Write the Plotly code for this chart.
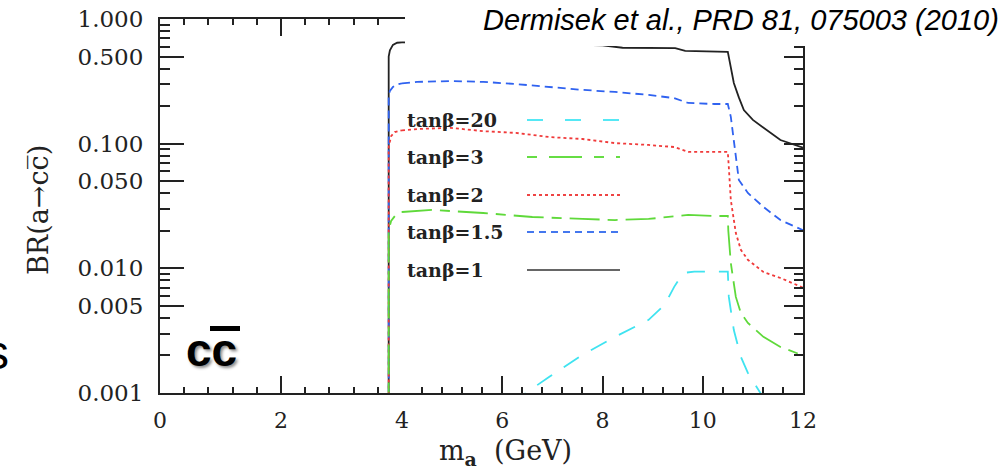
import plotly.graph_objects as go

# ---------------- data ----------------
tb1_x = [3.78, 3.78, 3.80, 3.85, 3.92, 4.0, 5.0, 6.0, 7.0, 8.0, 8.4, 9.45, 9.65, 10.5,
         10.56, 10.62, 10.72, 10.82, 11.0, 11.21, 11.55, 12.0]
tb1_y = [0.0005, 0.50, 0.56, 0.62, 0.645, 0.65, 0.645, 0.64, 0.63, 0.615, 0.588, 0.583, 0.555, 0.545,
         0.42, 0.307, 0.235, 0.186, 0.155, 0.134, 0.107, 0.093]

tb15_x = [3.78, 3.78, 3.80, 3.85, 3.92, 4.0, 4.3, 4.97, 5.62, 6.27, 6.94, 7.6, 8.25, 8.92, 9.43, 9.71,
          10.23, 10.5, 10.56, 10.62, 10.72, 10.9, 11.21, 11.55, 12.0]
tb15_y = [0.0005, 0.24, 0.265, 0.285, 0.298, 0.305, 0.313, 0.318, 0.313, 0.301, 0.285, 0.270, 0.260,
          0.246, 0.232, 0.212, 0.208, 0.208, 0.164, 0.107, 0.0512, 0.0402, 0.0311, 0.0244, 0.0202]

tb2_x = [3.78, 3.78, 3.82, 3.88, 4.0, 4.3, 4.97, 5.62, 6.27, 6.94, 7.6, 8.25, 8.92, 9.43, 9.71,
         10.23, 10.5, 10.52, 10.56, 10.66, 10.76, 10.9, 11.21, 11.55, 12.0]
tb2_y = [0.0005, 0.094, 0.115, 0.124, 0.128, 0.131, 0.134, 0.126, 0.122, 0.113, 0.109, 0.101, 0.0977,
         0.094, 0.0858, 0.0858, 0.0858, 0.065, 0.0353, 0.0192, 0.0141, 0.0117, 0.00935, 0.00837, 0.0070]

tb3_x = [3.78, 3.78, 3.82, 3.90, 4.0, 4.6, 5.62, 6.6, 7.6, 8.25, 8.92, 9.43, 9.71, 10.23, 10.5,
         10.51, 10.56, 10.66, 10.76, 10.9, 11.21, 11.55, 12.0]
tb3_y = [0.0005, 0.0203, 0.024, 0.027, 0.0283, 0.0294, 0.0278, 0.0258, 0.0249, 0.0244, 0.0249, 0.0263,
         0.0268, 0.0263, 0.0263, 0.020, 0.0110, 0.0059, 0.00439, 0.00365, 0.00282, 0.00234, 0.0020]

tb20_x = [6.2, 6.47, 6.94, 7.6, 8.25, 8.92, 9.24, 9.43, 9.61, 9.83, 10.42, 10.5, 10.52, 10.62,
          10.76, 10.9, 11.15, 11.3]
tb20_y = [0.0008, 0.001, 0.00135, 0.00202, 0.00282, 0.00386, 0.00509, 0.0071, 0.00919, 0.0094, 0.0094,
          0.0094, 0.0059, 0.0032, 0.00195, 0.00145, 0.0010, 0.0008]

series_names = ["tanβ=20", "tanβ=3", "tanβ=2", "tanβ=1.5", "tanβ=1"]
series_x = [tb20_x, tb3_x, tb2_x, tb15_x, tb1_x]
series_y = [tb20_y, tb3_y, tb2_y, tb15_y, tb1_y]
series_color = ["#3fe3f0", "#5fd93a", "#f03a3a", "#2f62f0", "#222222"]
series_dash = ["18px,14px", "30px,8px,10px,8px", "3px,3px", "8px,5px", "solid"]
legend_dash = ["16px,22px", "10px,12px,33px,12px", "3px,3px", "7px,5px", "solid"]
legend_color = ["#55e8f5", "#66dd44", "#ee4444", "#4477ee", "#666666"]

x_split = 4.0
x_left_ticks = [0, 2]
x_right_ticks = [4, 6, 8, 10, 12]
y_ticks = [0.001, 0.005, 0.01, 0.05, 0.1, 0.5, 1.0]
y_ticktext = ["0.001", "0.005", "0.010", "0.050", "0.100", "0.500", "1.000"]

W, H = 1003, 475


def px(x):
    return x / W


def py(y):
    return 1 - y / H


fig = go.Figure()

# draw tanβ=1 first so the coloured curves lie on top of it (as in the reference)
for name, xs, ys, col, dash in list(zip(series_names, series_x, series_y, series_color, series_dash))[::-1]:
    lx = [x for x in xs if x <= x_split]
    ly = [y for x, y in zip(xs, ys) if x <= x_split]
    rx = [x for x in xs if x >= x_split]
    ry = [y for x, y in zip(xs, ys) if x >= x_split]
    if lx:
        fig.add_trace(go.Scatter(x=lx, y=ly, mode="lines", name=name, showlegend=False,
                                 line=dict(color=col, width=1.8, dash=dash),
                                 xaxis="x", yaxis="y"))
    fig.add_trace(go.Scatter(x=rx, y=ry, mode="lines", name=name, showlegend=False,
                             line=dict(color=col, width=1.8, dash=dash),
                             xaxis="x2", yaxis="y2"))

axcol = "#222222"
tickfont = dict(family="DejaVu Serif", size=22, color="#222222")
ytickfont = dict(family="DejaVu Serif", size=23, color="#222222")

minor_left = [0.4, 0.8, 1.2, 1.6, 2.4, 2.8, 3.2, 3.6]
minor_right = [4.4, 4.8, 5.2, 5.6, 6.4, 6.8, 7.2, 7.6, 8.4, 8.8, 9.2, 9.6,
               10.4, 10.8, 11.2, 11.6]
minor_y = [m * d for d in (0.001, 0.01, 0.1) for m in (2, 3, 4, 6, 7, 8, 9)]

ydom = [py(393), py(19)]

fig.update_layout(
    width=W, height=H,
    margin=dict(l=0, r=0, t=0, b=0, autoexpand=False),
    paper_bgcolor="white", plot_bgcolor="white",
    showlegend=False,
    xaxis=dict(domain=[px(160), px(402)], range=[0, x_split], anchor="y", automargin=False,
               tickmode="array", tickvals=x_left_ticks, ticktext=[str(v) for v in x_left_ticks],
               ticks="inside", ticklen=17, tickwidth=2, tickcolor=axcol,
               minor=dict(tickmode="array", tickvals=minor_left, ticks="inside",
                          ticklen=6, tickwidth=2, tickcolor=axcol),
               showline=True, linewidth=2, linecolor=axcol, mirror="ticks",
               showgrid=False, zeroline=False, tickfont=tickfont, ticklabelstandoff=7),
    xaxis2=dict(domain=[px(402), px(803)], range=[x_split, 12], anchor="y2", automargin=False,
                tickmode="array", tickvals=x_right_ticks, ticktext=[str(v) for v in x_right_ticks],
                ticks="inside", ticklen=17, tickwidth=2, tickcolor=axcol,
                minor=dict(tickmode="array", tickvals=minor_right, ticks="inside",
                           ticklen=6, tickwidth=2, tickcolor=axcol),
                showline=True, linewidth=2, linecolor=axcol, mirror="ticks",
                showgrid=False, zeroline=False, tickfont=tickfont, ticklabelstandoff=7),
    yaxis=dict(domain=ydom, type="log", range=[-3, 0], anchor="x", automargin=False,
               tickmode="array", tickvals=y_ticks, ticktext=y_ticktext,
               ticks="inside", ticklen=24, tickwidth=2, tickcolor=axcol,
               minor=dict(tickmode="array", tickvals=minor_y, ticks="inside",
                          ticklen=10, tickwidth=2, tickcolor=axcol),
               showline=True, linewidth=2, linecolor=axcol, mirror=False,
               showgrid=False, zeroline=False, tickfont=ytickfont, ticklabelstandoff=10),
    yaxis2=dict(domain=ydom, type="log", range=[-3, 0], anchor="x2", side="right", automargin=False,
                tickmode="array", tickvals=y_ticks, showticklabels=False,
                ticks="inside", ticklen=19, tickwidth=2, tickcolor=axcol,
                minor=dict(tickmode="array", tickvals=minor_y, ticks="inside",
                           ticklen=9, tickwidth=2, tickcolor=axcol),
                showline=True, linewidth=2, linecolor=axcol,
                showgrid=False, zeroline=False),
)

shapes = []
annotations = []

# in-plot legend (text, then line sample)
legend_rows = [120, 157, 195, 232, 270]
for name, yrow, col, dash in zip(series_names, legend_rows, legend_color, legend_dash):
    annotations.append(dict(text=name, xref="paper", yref="paper", x=px(405), y=py(yrow),
                            xanchor="left", yanchor="middle", showarrow=False,
                            font=dict(family="DejaVu Serif", size=19, color="#222222", weight="bold")))
    shapes.append(dict(type="line", xref="paper", yref="paper", x0=px(527), x1=px(620),
                       y0=py(yrow), y1=py(yrow), line=dict(color=col, width=2, dash=dash)))

# white box behind citation (covers the top-right corner of the frame)
shapes.append(dict(type="rect", xref="paper", yref="paper", x0=px(405), x1=1.0,
                   y0=py(46), y1=1.0, fillcolor="white", line=dict(width=0), layer="above"))
annotations.append(dict(text="<i>Dermisek et al., PRD 81, 075003 (2010)</i>", xref="paper", yref="paper",
                        x=px(1001), y=py(20), xanchor="right", yanchor="middle", showarrow=False,
                        font=dict(family="Liberation Sans", size=29, color="black")))

# y-axis title
annotations.append(dict(text="BR(a→cc\u0305)", xref="paper", yref="paper", x=px(38), y=py(210),
                        xanchor="center", yanchor="middle", textangle=-90, showarrow=False,
                        font=dict(family="DejaVu Serif", size=27, color="#222222")))
# x-axis title
annotations.append(dict(text="m<sub><b>a</b></sub>  (GeV)", xref="paper", yref="paper", x=px(505), y=py(452),
                        xanchor="center", yanchor="middle", showarrow=False,
                        font=dict(family="DejaVu Serif", size=27, color="#222222")))

# c c-bar label
annotations.append(dict(text="<b>cc</b>", xref="paper", yref="paper", x=px(211), y=py(350),
                        xanchor="center", yanchor="middle", showarrow=False,
                        font=dict(family="Liberation Sans", size=46, color="black",
                                  shadow="2px 2px 3px rgba(0,0,0,0.45)")))
shapes.append(dict(type="line", xref="paper", yref="paper", x0=px(210), x1=px(240),
                   y0=py(328.5), y1=py(328.5), line=dict(color="black", width=5)))

# cut-off letter at the left edge
annotations.append(dict(text="s", xref="paper", yref="paper", x=px(11), y=py(352),
                        xanchor="right", yanchor="middle", showarrow=False,
                        font=dict(family="Liberation Sans", size=48, color="black")))

fig.update_layout(shapes=shapes, annotations=annotations)

fig.write_html("out.html")
